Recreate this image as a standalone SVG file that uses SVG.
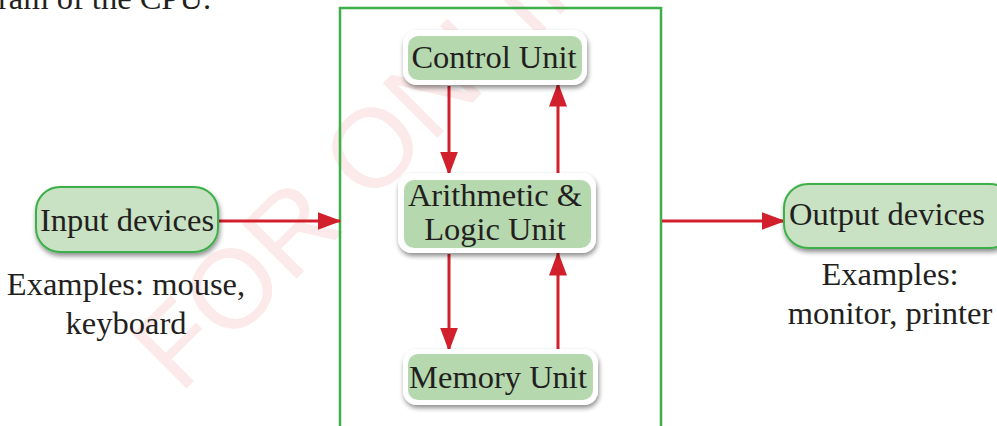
<svg xmlns="http://www.w3.org/2000/svg" width="997" height="426" viewBox="0 0 997 426">
<defs>
<style>
.t{font-family:'Liberation Serif','Times New Roman',Times,serif;font-size:32.5px;fill:#231f20;text-anchor:middle}
.c{stroke:#d11f2b;stroke-width:3;fill:none}
.unit-o{fill:#fff;filter:url(#sh)}
.unit-i{fill:#b5d8ae}
.dev{fill:#c8e2c3;stroke:#3daf4a;stroke-width:2;filter:url(#sh)}
</style>
<filter id="sh" x="-10%" y="-20%" width="120%" height="150%">
<feGaussianBlur in="SourceAlpha" stdDeviation="2.5"/>
<feOffset dx="1" dy="3" result="b"/>
<feComponentTransfer><feFuncA type="linear" slope="0.45"/></feComponentTransfer>
<feMerge><feMergeNode/><feMergeNode in="SourceGraphic"/></feMerge>
</filter>
<marker id="ah" markerWidth="8" markerHeight="6" refX="7.5" refY="3" orient="auto" markerUnits="strokeWidth">
<path d="M0,0 L8,3 L0,6 Z" fill="#d11f2b"/>
</marker>
</defs>
<rect width="997" height="426" fill="#fff"/>
<text transform="translate(180,395) rotate(-45)" font-family="'Liberation Sans', Arial, sans-serif" font-weight="300" font-size="112" fill="#f5b5b5" fill-opacity="0.3">FOR ONLINE USE ONLY</text>
<text x="-2" y="9" font-family="'Liberation Serif','Times New Roman',Times,serif" font-size="32.5" fill="#231f20">ram of the CPU.</text>
<rect id="cpu" x="340" y="8" width="321" height="440" fill="none" stroke="#3daf4a" stroke-width="2.5"/>
<g id="connectors">
<line class="c" x1="218" y1="221" x2="340" y2="221" marker-end="url(#ah)"/>
<line class="c" x1="662" y1="221" x2="784" y2="221" marker-end="url(#ah)"/>
<line class="c" x1="449" y1="86" x2="449" y2="174" marker-end="url(#ah)"/>
<line class="c" x1="558" y1="173" x2="558" y2="84" marker-end="url(#ah)"/>
<line class="c" x1="449" y1="254" x2="449" y2="350" marker-end="url(#ah)"/>
<line class="c" x1="558" y1="349" x2="558" y2="253" marker-end="url(#ah)"/>
</g>
<g id="control-unit">
<rect class="unit-o" x="403" y="30" width="184" height="55" rx="14"/>
<rect class="unit-i" x="408" y="36" width="174" height="44" rx="10"/>
<text class="t" x="494" y="68">Control Unit</text>
</g>
<g id="alu">
<rect class="unit-o" x="398" y="173" width="198" height="80" rx="14"/>
<rect class="unit-i" x="404" y="180" width="187" height="68" rx="10"/>
<text class="t" x="495" y="206">Arithmetic &amp;</text>
<text class="t" x="495" y="240">Logic Unit</text>
</g>
<g id="memory-unit">
<rect class="unit-o" x="403" y="349" width="195" height="56" rx="14"/>
<rect class="unit-i" x="408" y="354" width="185" height="46" rx="10"/>
<text class="t" x="498" y="388">Memory Unit</text>
</g>
<g id="input-devices">
<rect class="dev" x="36" y="187" width="182" height="65" rx="24"/>
<text class="t" x="127" y="231">Input devices</text>
<text class="t" x="126" y="295">Examples: mouse,</text>
<text class="t" x="126" y="334">keyboard</text>
</g>
<g id="output-devices">
<rect class="dev" x="784" y="184" width="230" height="64" rx="24"/>
<text class="t" x="887" y="225">Output devices</text>
<text class="t" x="890" y="285">Examples:</text>
<text class="t" x="890" y="324">monitor, printer</text>
</g>
</svg>
